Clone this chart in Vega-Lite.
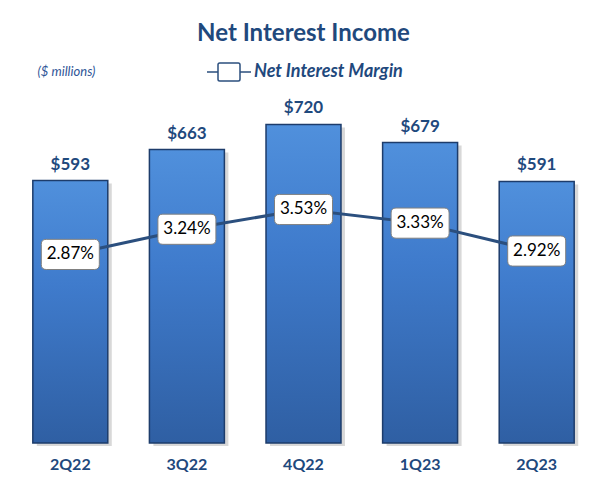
{
  "$schema": "https://vega.github.io/schema/vega-lite/v6.json",
  "width": 583,
  "height": 354,
  "autosize": {"type": "none"},
  "padding": {"left": 12, "top": 89, "right": 18, "bottom": 45},
  "background": "white",
  "config": {"view": {"stroke": null}, "font": "Lato"},
  "title": {"text": "Net Interest Income", "fontSize": 24, "fontWeight": "bold", "color": "#1F497D", "anchor": "middle", "offset": 3, "font": "Lato"},
  "data": {"values": [
    {"q": "2Q22", "nii": 593, "nim": 2.87, "nimLabel": "2.87%"},
    {"q": "3Q22", "nii": 663, "nim": 3.24, "nimLabel": "3.24%"},
    {"q": "4Q22", "nii": 720, "nim": 3.53, "nimLabel": "3.53%"},
    {"q": "1Q23", "nii": 679, "nim": 3.33, "nimLabel": "3.33%"},
    {"q": "2Q23", "nii": 591, "nim": 2.92, "nimLabel": "2.92%"}
  ]},
  "encoding": {
    "x": {"field": "q", "type": "nominal", "sort": null,
      "scale": {"paddingInner": 0.357, "paddingOuter": 0.1785},
      "axis": {"title": null, "labelAngle": 0, "ticks": false, "domain": false, "labelPadding": 21, "labelFontSize": 16, "labelFontWeight": "bold", "labelColor": "#1F497D", "labelFont": "Lato", "labelBaseline": "middle"}}
  },
  "layer": [
    {
      "encoding": {"y": {"field": "nii", "type": "quantitative", "scale": {"domain": [0, 800]},
        "axis": {"title": "($ millions)", "titleAngle": 0, "titleAlign": "left", "titleBaseline": "middle", "titleX": 25, "titleY": -18, "titleFontSize": 13, "titleFontStyle": "italic", "titleFontWeight": "normal", "titleColor": "#2F5597", "titleFont": "Lato", "labels": false, "ticks": false, "domain": false, "grid": false}}},
      "layer": [
        {"mark": {"type": "bar", "fill": "#b8b8b8", "opacity": 0.55, "xOffset": 4, "x2Offset": 4, "yOffset": 3, "y2Offset": 3}},
        {"mark": {"type": "bar", "stroke": "#1d3c6b", "strokeWidth": 1.5,
          "fill": {"gradient": "linear", "x1": 0, "y1": 0, "x2": 0, "y2": 1,
            "stops": [{"offset": 0, "color": "#5090dc"}, {"offset": 0.4, "color": "#3f7bcc"}, {"offset": 1, "color": "#2f5fa3"}]}}},
        {"mark": {"type": "text", "baseline": "bottom", "dy": -7, "fontSize": 17, "fontWeight": "bold", "color": "#1F497D", "font": "Lato"},
          "encoding": {"text": {"field": "nii", "type": "quantitative", "format": "$.0f"}}}
      ]
    },
    {
      "encoding": {"y": {"field": "nim", "type": "quantitative", "scale": {"domain": [0.1, 5.3]}, "axis": null}},
      "layer": [
        {"mark": {"type": "line", "strokeWidth": 3},
          "encoding": {"color": {"datum": "Net Interest Margin", "scale": {"range": ["#2B4F7E"]},
            "legend": {"orient": "none", "legendX": 194, "legendY": -40, "title": null, "padding": 0,
              "symbolType": "M-1,0H-0.5M0.5,0H1M-0.42,-0.41H0.42Q0.5,-0.41 0.5,-0.33V0.33Q0.5,0.41 0.42,0.41H-0.42Q-0.5,0.41 -0.5,0.33V-0.33Q-0.5,-0.41 -0.42,-0.41Z",
              "symbolSize": 1936, "symbolStrokeWidth": 1.5, "labelOffset": 2,
              "labelFont": "Lato", "labelFontSize": 18, "labelFontWeight": "bold", "labelFontStyle": "italic", "labelColor": "#1F497D",
              "encode": {"symbols": {"update": {"fill": {"value": "white"}, "stroke": {"value": "#404040"}, "strokeWidth": {"value": 1.5}}}}}}}},
        {"mark": {"type": "point", "filled": true, "fill": "white", "stroke": "#808080", "strokeWidth": 1, "opacity": 1, "size": 3364,
          "shape": "M-0.83,-0.52H0.83Q1,-0.52 1,-0.35V0.35Q1,0.52 0.83,0.52H-0.83Q-1,0.52 -1,0.35V-0.35Q-1,-0.52 -0.83,-0.52Z"}},
        {"mark": {"type": "text", "fontSize": 17, "color": "black", "font": "Lato"},
          "encoding": {"text": {"field": "nimLabel", "type": "nominal"}}}
      ]
    }
  ],
  "resolve": {"scale": {"y": "independent"}}
}
